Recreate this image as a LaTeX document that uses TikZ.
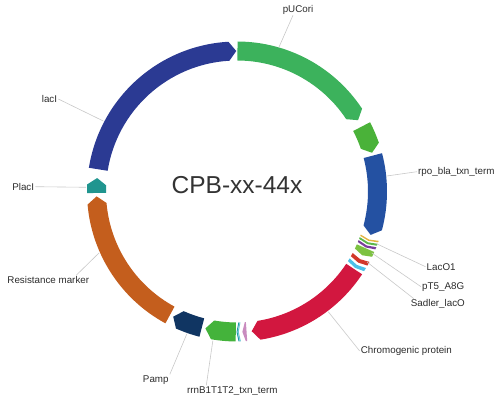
\documentclass[tikz,border=0pt]{standalone}
\usepackage{fontspec}
\setmainfont{Liberation Sans}

\definecolor{pucol}{HTML}{3CB25C}
\definecolor{termgreen}{HTML}{4AB239}
\definecolor{rpocol}{HTML}{2451A2}
\definecolor{yellowcol}{HTML}{E3B341}
\definecolor{thingreen}{HTML}{5DB84A}
\definecolor{purplecol}{HTML}{7A3E9D}
\definecolor{ptfivecol}{HTML}{7DC242}
\definecolor{sadlercol}{HTML}{D2382A}
\definecolor{lightblue}{HTML}{4DC0E8}
\definecolor{chromocol}{HTML}{D2173F}
\definecolor{pinkcol}{HTML}{C98BBF}
\definecolor{tealcol}{HTML}{1F9AA6}
\definecolor{lightteal}{HTML}{6BC6D5}
\definecolor{rrnbcol}{HTML}{44B33B}
\definecolor{pampcol}{HTML}{103562}
\definecolor{rescol}{HTML}{C45E1D}
\definecolor{placcol}{HTML}{20958F}
\definecolor{laccol}{HTML}{2B3A93}
\definecolor{titlegray}{HTML}{333333}
\definecolor{labelgray}{HTML}{2B2B2B}
\definecolor{leadergray}{HTML}{C8C8C8}

\def\rout{150pt}
\def\rmid{140.5pt}
\def\rin{131pt}

% feature arrow: flat end, tip, tip depth, colour
\newcommand{\featarrow}[4]{%
  \fill[#4] (#1:\rout) arc[start angle=#1, end angle=#2+#3, radius=\rout] -- (#2:\rmid)
    -- (#2+#3:\rin) arc[start angle=#2+#3, end angle=#1, radius=\rin] -- cycle;}
% thin feature: start, end, colour
\newcommand{\featband}[3]{%
  \fill[#3] (#1:\rout) -- (#1-0.8:\rmid) -- (#1:\rin) -- (#2:\rin) -- (#2-0.8:\rmid) -- (#2:\rout) -- cycle;}

\tikzset{
  lbl/.style={font=\fontsize{9.8}{11}\selectfont, text=labelgray, inner sep=1pt},
  leader/.style={draw=leadergray, line width=0.6pt}
}

\begin{document}
\begin{tikzpicture}[x=1pt, y=1pt]
    \useasboundingbox (-237,-211.5) rectangle (263,191.5);
    % features, clockwise from the top
    \featarrow{89.8}{30.5}{3}{pucol}
    \featarrow{27.5}{16}{3}{termgreen}
    \featarrow{14.8}{-18}{3}{rpocol}
    \featband{340.8}{340.2}{yellowcol}
    \featband{339.6}{338.8}{thingreen}
    \featband{338.2}{337.3}{purplecol}
    \featarrow{336.2}{333}{1.2}{ptfivecol}
    \featband{332}{330.4}{sadlercol}
    \featband{329.3}{327.9}{lightblue}
    \featarrow{326.5}{276}{3}{chromocol}
    \featarrow{273.9}{272.2}{1.2}{pinkcol}
    \featband{271.5}{271.1}{lightteal}
    \featband{271.0}{270.6}{tealcol}
    \featarrow{269.5}{257}{3}{rrnbcol}
    \featarrow{255.5}{243}{3}{pampcol}
    \featarrow{241.5}{182}{3}{rescol}
    \featarrow{180.6}{174.5}{2.8}{placcol}
    \featarrow{170.9}{90.3}{3}{laccol}
    % title
    \node[font=\fontsize{24.5}{28}\selectfont, text=titlegray] (title) at (0,6.5) {CPB-xx-44x};
    % labels
    \node[lbl] (pucori) at (61,182) {pUCori};
    \node[lbl, anchor=west] (rpo) at (180,19.8) {rpo\_bla\_txn\_term};
    \node[lbl, anchor=west] (laco1) at (188.5,-75.2) {LacO1};
    \node[lbl, anchor=west] (pt5) at (184,-95.2) {pT5\_A8G};
    \node[lbl, anchor=west] (sadler) at (172.7,-112.8) {Sadler\_lacO};
    \node[lbl, anchor=west] (chromo) at (122.7,-159.5) {Chromogenic protein};
    \node[lbl] (rrnb) at (-4.7,-199.5) {rrnB1T1T2\_txn\_term};
    \node[lbl] (pamp) at (-81.2,-188.5) {Pamp};
    \node[lbl] (resist) at (-188.7,-88.5) {Resistance marker};
    \node[lbl, anchor=east] (placi) at (-201.7,4.8) {PlacI};
    \node[lbl, anchor=east] (laci) at (-178.7,92.5) {lacI};
    % leader ends on the ring
    \coordinate (pucori-c) at (73.8:150);
    \coordinate (rpo-c) at (5.9:150);
    \coordinate (laco1-c) at (339.5:148);
    \coordinate (pt5-c) at (335.5:148);
    \coordinate (sadler-c) at (331.5:148);
    \coordinate (chromo-c) at (307.2:151);
    \coordinate (rrnb-c) at (260.8:151);
    \coordinate (pamp-c) at (250.6:151);
    \coordinate (resist-c) at (204:151);
    \coordinate (placi-c) at (178.4:151);
    \coordinate (laci-c) at (152.2:151);
    % leader lines
    \draw[leader] (pucori-c) -- ([xshift=-5pt]pucori.south);
    \draw[leader] (rpo-c) -- (rpo.west);
    \draw[leader] (laco1-c) -- (laco1.west);
    \draw[leader] (pt5-c) -- (pt5.west);
    \draw[leader] (sadler-c) -- ([xshift=4pt]sadler.north west);
    \draw[leader] (chromo-c) -- (chromo.west);
    \draw[leader] (rrnb-c) -- ([xshift=-26pt]rrnb.north);
    \draw[leader] (pamp-c) -- (pamp.north east);
    \draw[leader] (resist-c) -- ([xshift=28pt]resist.north);
    \draw[leader] (placi-c) -- (placi.east);
    \draw[leader] (laci-c) -- (laci.east);
\end{tikzpicture}
\end{document}
